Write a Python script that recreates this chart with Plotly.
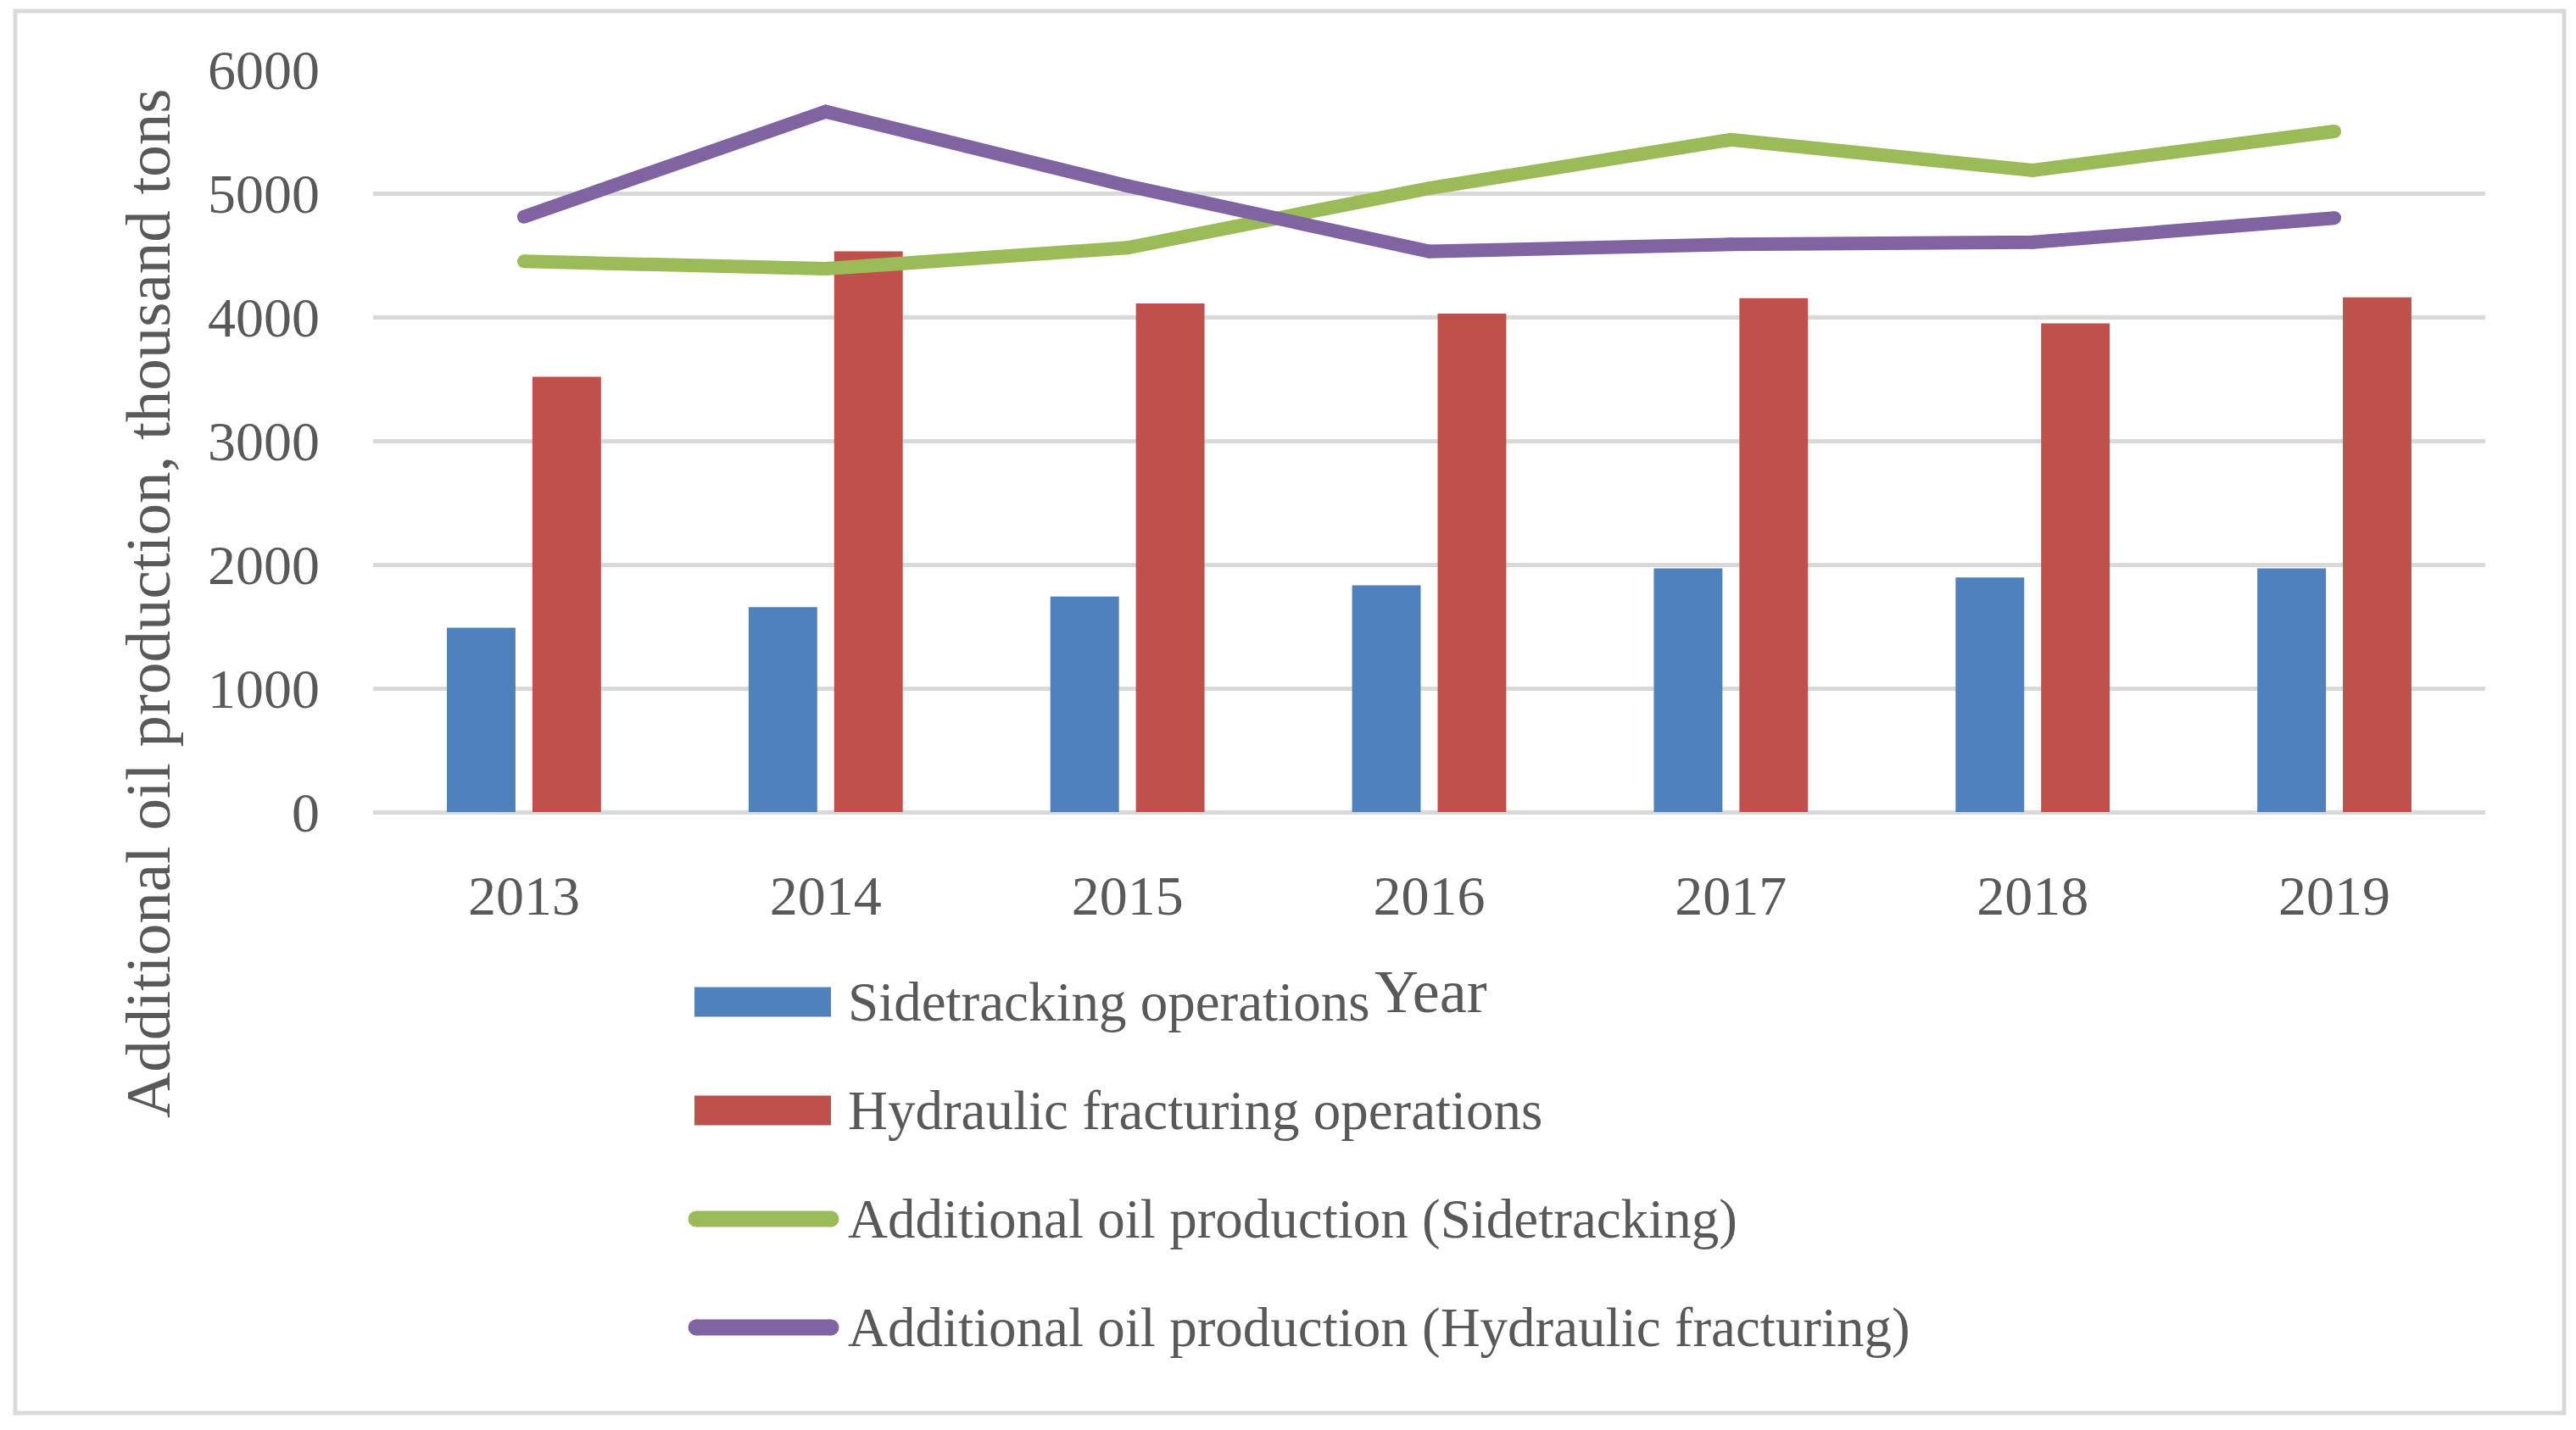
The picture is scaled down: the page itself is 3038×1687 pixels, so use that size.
import plotly.graph_objects as go

# ---------------- data ----------------
years = ["2013", "2014", "2015", "2016", "2017", "2018", "2019"]
sidetracking_ops = [1490, 1655, 1742, 1833, 1970, 1895, 1970]
hydraulic_ops = [3517, 4530, 4110, 4027, 4152, 3949, 4160]
add_oil_sidetracking = [4450, 4390, 4560, 5040, 5433, 5185, 5500]
add_oil_hydraulic = [4810, 5660, 5060, 4530, 4587, 4604, 4800]
y_ticks = [0, 1000, 2000, 3000, 4000, 5000, 6000]
y_tick_labels = ["0", "1000", "2000", "3000", "4000", "5000", "6000"]

series_names = [
    "Sidetracking operations",
    "Hydraulic fracturing operations",
    "Additional oil production (Sidetracking)",
    "Additional oil production (Hydraulic fracturing)",
]
colors = ["#4F81BD", "#C0504D", "#9BBB59", "#8064A2"]

# ---------------- layout geometry ----------------
# the page body adds an 8px offset, so the figure is 8px smaller
OFF = 8
W_PX, H_PX = 3038, 1687
FIG_W, FIG_H = W_PX - OFF, H_PX - OFF
M_L, M_R, M_T, M_B = 440 - OFF, 107, 82 - OFF, 729
PW = FIG_W - M_L - M_R
PH = FIG_H - M_T - M_B
FONT = "Liberation Serif"
TXT = "#595959"
GRID = "#D9D9D9"
LW = 16


def px_x(px):
    return (px - OFF - M_L) / PW


def px_y(py):
    return (FIG_H - M_B - (py - OFF)) / PH


fig = go.Figure()
fig.add_trace(go.Bar(x=years, y=sidetracking_ops, name=series_names[0],
                     marker=dict(color=colors[0], line=dict(width=0))))
fig.add_trace(go.Bar(x=years, y=hydraulic_ops, name=series_names[1],
                     marker=dict(color=colors[1], line=dict(width=0))))
fig.add_trace(go.Scatter(x=years, y=add_oil_sidetracking, name=series_names[2],
                         mode="lines+markers",
                         line=dict(color=colors[2], width=LW),
                         marker=dict(color=colors[2], size=LW, line=dict(width=0))))
fig.add_trace(go.Scatter(x=years, y=add_oil_hydraulic, name=series_names[3],
                         mode="lines+markers",
                         line=dict(color=colors[3], width=LW),
                         marker=dict(color=colors[3], size=LW, line=dict(width=0))))

shapes = []
annotations = []

# outer border
shapes.append(dict(type="rect", xref="paper", yref="paper",
                   x0=px_x(18), x1=px_x(3024), y0=px_y(1667), y1=px_y(13),
                   line=dict(color=GRID, width=5), fillcolor="rgba(0,0,0,0)",
                   layer="below"))

# manual legend
row_y = [1182, 1310, 1438, 1566]
for i, name in enumerate(series_names):
    yc = px_y(row_y[i])
    if i < 2:
        shapes.append(dict(type="rect", xref="paper", yref="paper",
                           x0=px_x(819), x1=px_x(980),
                           y0=px_y(row_y[i] + 17.5), y1=px_y(row_y[i] - 17.5),
                           line=dict(width=0), fillcolor=colors[i]))
    else:
        shapes.append(dict(type="line", xref="paper", yref="paper",
                           x0=px_x(821), x1=px_x(980), y0=yc, y1=yc,
                           line=dict(color=colors[i], width=19)))
        for ex in (821, 980):
            shapes.append(dict(type="circle", xref="paper", yref="paper",
                               xsizemode="pixel", ysizemode="pixel",
                               xanchor=px_x(ex), yanchor=yc,
                               x0=-9.5, x1=9.5, y0=-9.5, y1=9.5,
                               line=dict(width=0), fillcolor=colors[i]))
    annotations.append(dict(text=name, xref="paper", yref="paper",
                            x=px_x(998), y=yc, xanchor="left", yanchor="middle",
                            showarrow=False,
                            font=dict(family=FONT, size=65, color=TXT)))

# axis titles
annotations.append(dict(text="Additional oil production, thousand tons",
                        xref="paper", yref="paper", x=px_x(174), y=px_y(712),
                        xanchor="center", yanchor="middle", textangle=-90,
                        showarrow=False, font=dict(family=FONT, size=75, color=TXT)))
annotations.append(dict(text="Year", xref="paper", yref="paper",
                        x=px_x(1687), y=px_y(1170),
                        xanchor="center", yanchor="middle",
                        showarrow=False, font=dict(family=FONT, size=72, color=TXT)))

fig.update_layout(
    width=FIG_W, height=FIG_H,
    margin=dict(l=M_L, r=M_R, t=M_T, b=M_B, pad=0),
    paper_bgcolor="white", plot_bgcolor="white",
    barmode="group", bargap=0.433, bargroupgap=0.198,
    showlegend=False,
    shapes=shapes, annotations=annotations,
    font=dict(family=FONT, color=TXT),
)
fig.update_xaxes(type="category", showgrid=False, showline=False, zeroline=False,
                 ticks="", tickfont=dict(family=FONT, size=66, color=TXT),
                 ticklabelstandoff=54)
fig.update_yaxes(range=[0, 6000], tickvals=y_ticks, ticktext=y_tick_labels,
                 showgrid=True, gridcolor=GRID, gridwidth=5,
                 zeroline=True, zerolinecolor=GRID, zerolinewidth=5,
                 showline=False, ticks="",
                 tickfont=dict(family=FONT, size=66, color=TXT),
                 ticklabelstandoff=62)

fig.write_html("out.html")
